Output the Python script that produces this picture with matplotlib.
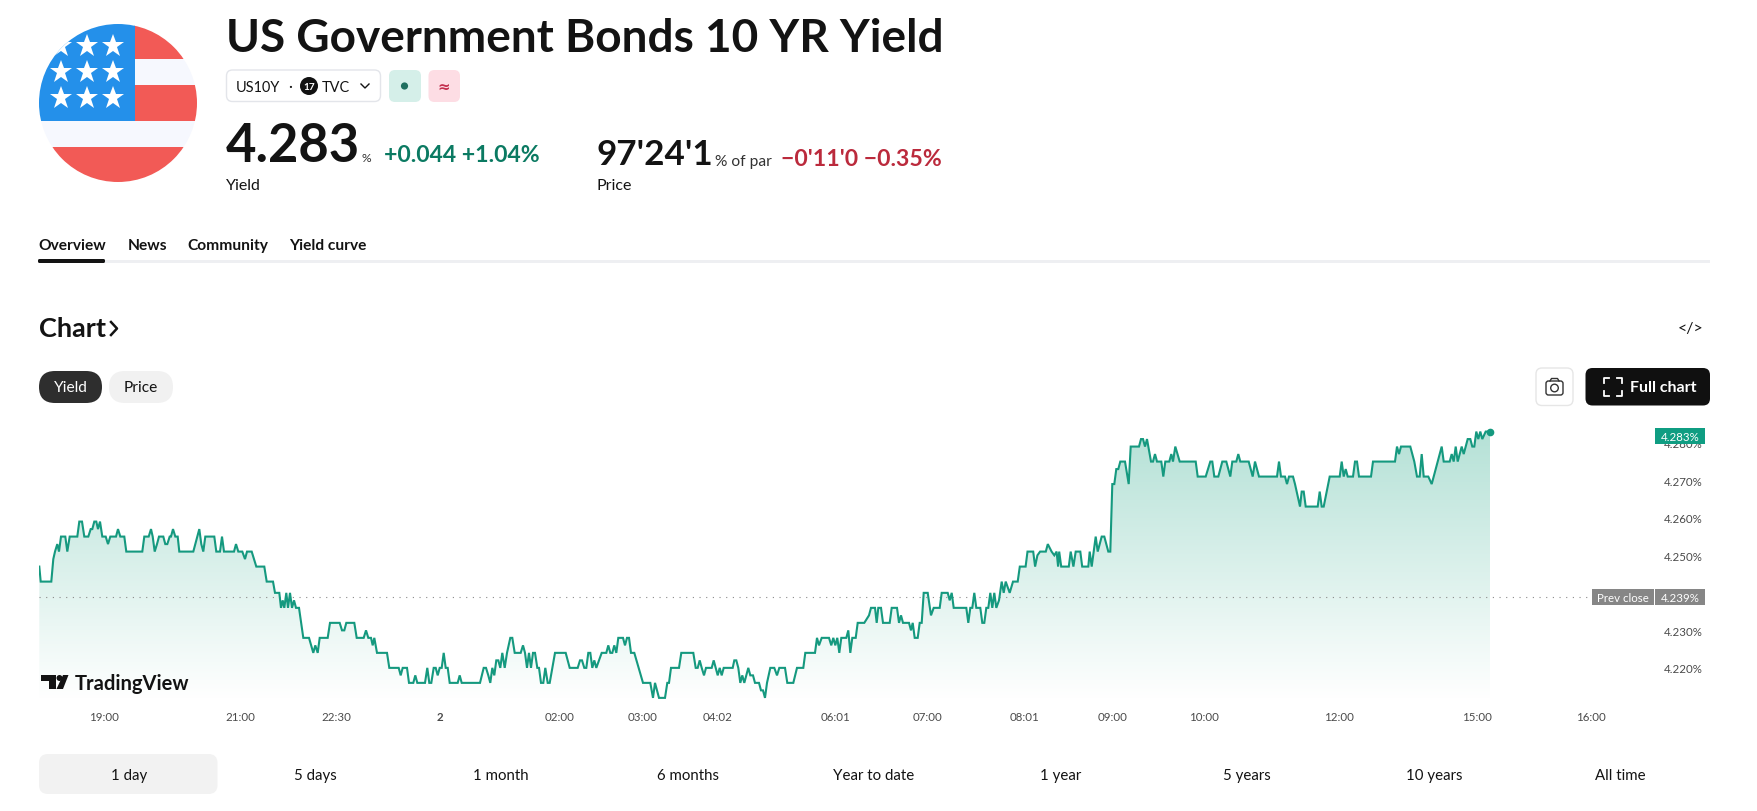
import matplotlib
matplotlib.use('Agg')
import matplotlib.pyplot as plt
import numpy as np
from matplotlib.colors import LinearSegmentedColormap
from matplotlib.patches import Circle, FancyBboxPatch, Polygon, Rectangle

plt.rcParams['font.family'] = ['Lato', 'DejaVu Sans']

# -- chart data, bar position along the time scale and yield in %
bar_pos = [
    0.3, 1.7, 12.3, 14.3, 16, 18.3, 20, 22, 26.3, 28.3,
    30.7, 38.3, 40.3, 43, 45.3, 49.3, 51.7, 53.3, 55.3, 57.3,
    59, 61, 63.3, 66.7, 69, 71.3, 77, 79, 81.3, 85.3,
    87.3, 103.3, 105.3, 109.7, 112, 113.7, 115.7, 118, 120, 124.3,
    126.3, 128.3, 130.7, 132, 134, 136.3, 138.7, 140.3, 154.3, 156.3,
    160.3, 162.3, 164.3, 166.3, 175.3, 177.3, 181, 183, 185, 195,
    197, 199.3, 203.3, 206,
    208, 212.7, 217.3, 225.3, 227.7, 234, 236, 240.3, 242, 243.7,
    245.3, 247.3, 249, 251, 253, 255, 257, 260, 264.3, 270,
    274.3, 276.3, 278.7, 280.7, 288.7, 291, 300.7, 303, 305.3, 307.3,
    315.3, 317.7, 324.7, 327, 329.3, 332, 333.7, 335.3, 338, 348,
    350.3, 359.7, 361.7, 363.7, 368, 370, 374.3, 376.3, 378.3, 386,
    388.3, 390.3, 392.3, 394.7, 396.7, 398.7, 400.7, 402.7, 404.7, 406.7,
    408.7, 410.7, 416,
    418.7, 420.7, 422.7, 441, 444.7, 447, 449.3, 451.3, 453.3, 455.3,
    457.3, 459.3, 461.3, 463.3, 465.7, 468, 471.3, 473.3, 475.7, 481.7,
    484, 486, 488, 490, 492, 494, 496, 498.3, 500, 502,
    504.3, 506.3, 508.7, 510.7, 516, 526.7, 530.7, 538.7, 541, 543,
    545.3, 547.3, 549.3, 551.3, 553.3, 555.3, 557.3, 560, 562.7, 567.3,
    569.3, 571.3, 573.3, 575.3, 577.3, 579.3, 584, 586, 588, 590,
    592, 595.3, 604, 611.3, 614, 616, 620, 626,
    628.3, 630, 632, 640, 642.3, 654.3, 656.7, 658.7, 660.7, 662.7,
    665, 667, 672.7, 674.7, 676.7, 678.7, 680.7, 682.7, 684.7, 693.7,
    695.3, 697.3, 699.3, 701.3, 703.3, 705.3, 709.3, 711.3, 714, 716,
    720, 722, 724, 726, 728, 731.3, 735.3, 738, 740.3, 746,
    748.3, 754.3, 758, 764.3, 766.3, 776, 778, 780, 782.7, 790,
    792.3, 794.3, 796.3, 798.3, 800.3, 802.3, 807.3, 809.3, 811.3, 813.3,
    816.7, 818.7, 825.3, 830, 832,
    836, 837.7, 839.3, 842, 844, 850.7, 852.7, 858, 860, 862,
    864, 870, 872, 873.7, 875.7, 878.7, 880.7, 882.7, 884.7, 888.7,
    892, 894.7, 900.7, 902.7, 908.7, 910.7, 912.7, 914.7, 927.3, 929.3,
    931.3, 933.3, 935.3, 937.3, 941.3, 943.3, 945.3, 947.3, 949.3, 951.3,
    953.3, 955.3, 957.3, 960, 962.7, 964.7, 966.7, 970.7, 974, 978.7,
    980.8, 986.6, 988.5, 994.2, 996.1, 998.4, 1001.1, 1006.8, 1008.8, 1012.6,
    1015.3, 1017.6, 1019.1, 1020.2, 1022.2, 1029.8, 1031.7, 1034.4, 1036.7, 1041.3,
    1043.2, 1049.3,
    1050.7, 1052.7, 1056.7, 1058.7, 1062.7, 1065.3, 1069.3, 1071.3,
    1073.3, 1075.3, 1077.3, 1079.3, 1081.3, 1086, 1089.7, 1091.7, 1100, 1102,
    1104, 1106, 1108, 1112, 1114, 1116, 1118, 1122.3, 1124.3, 1126.3,
    1130.3, 1132.3, 1134, 1136.3, 1140.7, 1156.7, 1158.7, 1166.7, 1171.3, 1173.3,
    1175.3, 1179.3, 1183.3, 1187.3, 1191.3, 1193.3, 1197.3, 1199.3, 1201.3, 1209.7,
    1213.7, 1216, 1220, 1238, 1240, 1242, 1246, 1248, 1250, 1254,
    1256,
    1261, 1262.7, 1264.7, 1266.7, 1278.7, 1280.7, 1282.7, 1284.7, 1290.7, 1300.7,
    1302.7, 1304.7, 1306.7, 1308.7, 1314, 1316, 1318, 1320, 1332, 1334,
    1356, 1358, 1360, 1362, 1371.3, 1375.3, 1378, 1380.7, 1382.7, 1384.7,
    1389.3, 1392.7, 1402.7, 1404.7, 1410.7, 1412.7, 1414.7, 1416.7, 1418.7, 1422.7,
    1424.7, 1428.7, 1431.3, 1433.3, 1435.3, 1437.3, 1439.3, 1441.3, 1443.3, 1446.7,
    1451,
]
yield_vals = [
    4.247, 4.243, 4.243, 4.249, 4.251, 4.253, 4.251, 4.255, 4.255, 4.251,
    4.255, 4.255, 4.259, 4.259, 4.255, 4.255, 4.257, 4.257, 4.259, 4.259,
    4.257, 4.259, 4.255, 4.255, 4.253, 4.255, 4.255, 4.257, 4.255, 4.255,
    4.251, 4.251, 4.255, 4.255, 4.257, 4.255, 4.251, 4.253, 4.255, 4.255,
    4.253, 4.253, 4.255, 4.255, 4.257, 4.255, 4.255, 4.251, 4.251, 4.253,
    4.257, 4.253, 4.251, 4.255, 4.255, 4.251, 4.251, 4.255, 4.251, 4.251,
    4.253, 4.251, 4.251, 4.249,
    4.251, 4.251, 4.247, 4.247, 4.243, 4.243, 4.240, 4.240, 4.236, 4.238,
    4.236, 4.240, 4.236, 4.240, 4.236, 4.238, 4.236, 4.236, 4.228, 4.228,
    4.224, 4.226, 4.224, 4.228, 4.228, 4.232, 4.232, 4.230, 4.230, 4.232,
    4.232, 4.228, 4.228, 4.230, 4.228, 4.228, 4.226, 4.228, 4.224, 4.224,
    4.220, 4.220, 4.218, 4.220, 4.220, 4.216, 4.216, 4.218, 4.216, 4.216,
    4.220, 4.216, 4.216, 4.220, 4.220, 4.218, 4.220, 4.220, 4.224, 4.220,
    4.220, 4.216, 4.216,
    4.216, 4.218, 4.216, 4.216, 4.220, 4.220, 4.218, 4.216, 4.220, 4.218,
    4.222, 4.222, 4.220, 4.224, 4.220, 4.224, 4.228, 4.228, 4.224, 4.224,
    4.226, 4.224, 4.220, 4.224, 4.220, 4.224, 4.224, 4.220, 4.220, 4.216,
    4.216, 4.220, 4.216, 4.216, 4.224, 4.224, 4.220, 4.220, 4.222, 4.222,
    4.220, 4.220, 4.224, 4.224, 4.220, 4.222, 4.220, 4.222, 4.224, 4.224,
    4.226, 4.224, 4.224, 4.226, 4.224, 4.228, 4.228, 4.226, 4.228, 4.228,
    4.224, 4.224, 4.216, 4.216, 4.212, 4.216, 4.212, 4.212,
    4.216, 4.216, 4.220, 4.220, 4.224, 4.224, 4.220, 4.220, 4.222, 4.220,
    4.218, 4.220, 4.220, 4.222, 4.220, 4.218, 4.220, 4.218, 4.220, 4.220,
    4.222, 4.222, 4.220, 4.216, 4.218, 4.216, 4.220, 4.218, 4.218, 4.216,
    4.216, 4.214, 4.214, 4.212, 4.216, 4.220, 4.220, 4.218, 4.220, 4.220,
    4.216, 4.216, 4.220, 4.220, 4.224, 4.224, 4.228, 4.226, 4.228, 4.228,
    4.226, 4.228, 4.226, 4.228, 4.224, 4.228, 4.228, 4.230, 4.224, 4.228,
    4.228, 4.232, 4.232, 4.234, 4.236,
    4.236, 4.232, 4.236, 4.236, 4.232, 4.232, 4.236, 4.236, 4.232, 4.234,
    4.232, 4.232, 4.230, 4.232, 4.228, 4.228, 4.232, 4.232, 4.240, 4.240,
    4.234, 4.236, 4.236, 4.240, 4.240, 4.238, 4.240, 4.236, 4.236, 4.232,
    4.236, 4.236, 4.240, 4.236, 4.236, 4.232, 4.232, 4.236, 4.236, 4.240,
    4.236, 4.240, 4.236, 4.238, 4.243, 4.240, 4.243, 4.240, 4.243, 4.243,
    4.247, 4.247, 4.251, 4.251, 4.247, 4.250, 4.251, 4.251, 4.253, 4.251,
    4.250, 4.251, 4.247, 4.251, 4.247, 4.247, 4.251, 4.247, 4.251, 4.251,
    4.247, 4.247,
    4.251, 4.247, 4.255, 4.251, 4.255, 4.255, 4.251, 4.251,
    4.269, 4.269, 4.273, 4.273, 4.275, 4.275, 4.269, 4.279, 4.279, 4.281,
    4.281, 4.279, 4.281, 4.275, 4.275, 4.277, 4.275, 4.275, 4.271, 4.275,
    4.275, 4.277, 4.275, 4.279, 4.275, 4.275, 4.271, 4.271, 4.275, 4.275,
    4.271, 4.271, 4.275, 4.275, 4.271, 4.275, 4.275, 4.277, 4.275, 4.275,
    4.271, 4.275, 4.271, 4.271, 4.275, 4.271, 4.271, 4.269, 4.271, 4.271,
    4.269,
    4.263, 4.267, 4.267, 4.263, 4.263, 4.267, 4.263, 4.263, 4.271, 4.271,
    4.275, 4.271, 4.273, 4.271, 4.271, 4.275, 4.275, 4.271, 4.271, 4.275,
    4.275, 4.279, 4.277, 4.279, 4.279, 4.275, 4.271, 4.271, 4.277, 4.271,
    4.271, 4.269, 4.279, 4.275, 4.275, 4.277, 4.275, 4.279, 4.275, 4.279,
    4.277, 4.281, 4.281, 4.279, 4.279, 4.283, 4.281, 4.283, 4.281, 4.283,
    4.283,
]
prev_close = 4.239
time_ticks = [65, 201.3, 297, 400.7, 520.5, 603.9, 678.9, 796.7, 889, 985.8,
              1073.4, 1165.2, 1299.5, 1437.7, 1551.6]
time_labels = ['19:00', '21:00', '22:30', '2', '02:00', '03:00', '04:02', '06:01', '07:00', '08:01',
               '09:00', '10:00', '12:00', '15:00', '16:00']
yield_ticks = [4.22, 4.23, 4.24, 4.25, 4.26, 4.27, 4.28]
ranges = ['1 day', '5 days', '1 month', '6 months', 'Year to date', '1 year', '5 years', '10 years', 'All time']

W, H = 1757, 812
LINE = '#15997f'
INK = '#131313'


def fs(px):
    return px * 0.72


def box(ax, x0, y0, x1, y1, round_px, face, edge='none', lw=1.0, z=1):
    ax.add_patch(FancyBboxPatch((x0, y0), x1 - x0, y1 - y0, boxstyle=f'round,pad=0,rounding_size={round_px}',
                                facecolor=face, edgecolor=edge, linewidth=lw, zorder=z))


fig = plt.figure(figsize=(W / 100, H / 100), dpi=100, facecolor='white')

# -- chart pane, 39..1657 px across and 420..700 px down
ax = fig.add_axes([39 / W, 1 - 700 / H, (1657 - 39) / W, 280 / H])
ax.set_facecolor('none')
for s in ax.spines.values():
    s.set_visible(False)

grad = np.linspace(1, 0, 256).reshape(-1, 1)
cmap = LinearSegmentedColormap.from_list('fade', ['#ffffff', '#b4e1d6'])
y_bot, y_top = 4.2117, 4.28635
img = ax.imshow(grad, extent=(0, bar_pos[-1], y_bot, 4.284), aspect='auto', cmap=cmap, vmin=0, vmax=1, zorder=1)
outline = np.column_stack([bar_pos, yield_vals])
outline = np.vstack([[bar_pos[0], y_bot], outline, [bar_pos[-1], y_bot]])
clip = Polygon(outline, closed=True, transform=ax.transData, facecolor='none', edgecolor='none')
ax.add_patch(clip)
img.set_clip_path(clip)

ax.plot(bar_pos, yield_vals, color=LINE, lw=1.5, solid_joinstyle='miter', zorder=3)
ax.plot(bar_pos[-1], yield_vals[-1], 'o', color=LINE, ms=4.5, zorder=4)
ax.plot([0, 1553], [prev_close, prev_close], color='#8a8a8a', lw=0.8, ls=(0, (1, 5)), zorder=2)

ax.set_xlim(0, 1618)
ax.set_ylim(y_bot, y_top)
ax.set_xticks(time_ticks)
ax.set_xticklabels(time_labels, fontsize=fs(11.5), color='#4a4a4a')
ax.get_xticklabels()[3].set_fontweight('bold')
ax.yaxis.tick_right()
ax.set_yticks(yield_ticks)
ax.set_yticklabels([f'{v:.3f}%' for v in yield_ticks], fontsize=fs(11.5), color='#4a4a4a')
ax.tick_params(axis='x', length=0, pad=8.5)
ax.tick_params(axis='y', length=0, pad=5)

# -- page furniture, drawn on a pixel sized overlay
ui = fig.add_axes([0, 0, 1, 1])
ui.set_xlim(0, W)
ui.set_ylim(H, 0)
ui.axis('off')

# flag badge
badge = Circle((118, 104), 79, transform=ui.transData)
for y0, y1, c, x0, x1 in [(25, 60, '#f25a56', 134, 200), (60, 86, '#f6f8fe', 134, 200), (86, 122, '#f25a56', 134, 200),
                          (122, 148, '#f6f8fe', 38, 200), (148, 184, '#f25a56', 38, 200), (25, 122, '#2490ea', 38, 134.6)]:
    r = Rectangle((x0, y0), x1 - x0, y1 - y0, facecolor=c, edgecolor='none', zorder=1)
    ui.add_patch(r)
    r.set_clip_path(badge)
for sy in [46.7, 72.7, 99]:
    for sx in [60.6, 86.7, 112.9]:
        st, = ui.plot(sx, sy, marker='*', ms=17, color='white', mew=0, zorder=2)
        st.set_clip_path(badge)

ui.text(226, 39, 'US Government Bonds 10 YR Yield', fontsize=fs(46), fontweight='bold', color=INK, va='center')

# symbol chips
box(ui, 226.5, 71, 380.5, 102.5, 6, 'white', '#e3e5ea')
ui.text(258, 87.5, 'US10Y', fontsize=fs(14.5), color=INK, ha='center', va='center')
ui.text(290, 86.5, '·', fontsize=fs(15), color=INK, ha='center', va='center')
ui.add_patch(Circle((309, 87), 9, facecolor='#111111', edgecolor='none'))
ui.text(309, 87, '17', fontsize=fs(10), color='white', fontweight='bold', ha='center', va='center')
ui.text(336, 87.5, 'TVC', fontsize=fs(14.5), color=INK, ha='center', va='center')
ui.plot([361, 365, 369], [85, 89, 85], color=INK, lw=1.0)
box(ui, 389, 71, 421, 103, 6, '#d5efe9')
ui.add_patch(Circle((404.5, 87), 3.6, facecolor='#1f6f5f', edgecolor='none'))
box(ui, 428.5, 71, 460, 103, 6, '#fddde4')
ui.text(444, 87, '≈', fontsize=fs(15), fontweight='bold', color='#c4304f', ha='center', va='center', family='DejaVu Sans')

# quote line
ui.text(226, 147, '4.283', fontsize=fs(52.5), fontweight='bold', color=INK, va='center')
ui.text(362, 159, '%', fontsize=fs(12), color='#333333', va='center')
ui.text(384, 156, '+0.044 +1.04%', fontsize=fs(23), fontweight='bold', color='#0b7a62', va='center')
ui.text(226, 186, 'Yield', fontsize=fs(16), color=INK, va='center')
ui.text(597, 155, "97'24'1", fontsize=fs(35), fontweight='bold', color=INK, va='center')
ui.text(715, 162, '% of par', fontsize=fs(15.5), color='#333333', va='center')
ui.text(781, 159, '−0\'11\'0 −0.35%', fontsize=fs(23), fontweight='bold', color='#bb2a3c', va='center')
ui.text(597, 186, 'Price', fontsize=fs(16), color=INK, va='center')

# tabs
for label, x in [('Overview', 38), ('News', 127.5), ('Community', 187), ('Yield curve', 289)]:
    ui.text(x, 246, label, fontsize=fs(15.5), fontweight='bold', color=INK, va='center')
ui.add_patch(Rectangle((105, 260.5), 1605, 3.5, facecolor='#eeeff2', edgecolor='none'))
box(ui, 38, 260, 105, 264, 1.5, INK)

# chart header
ui.text(39, 329, 'Chart', fontsize=fs(27), fontweight='bold', color=INK, va='center')
ui.plot([111, 117, 111], [323, 329.5, 336], color=INK, lw=1.8)
ui.text(1691, 329, '</>', fontsize=fs(16), color=INK, ha='center', va='center')
box(ui, 39, 372, 102, 404, 16, '#2e2e2e')
ui.text(70.5, 388, 'Yield', fontsize=fs(15.5), color='white', ha='center', va='center')
box(ui, 109, 372, 173, 404, 16, '#f1f1f1')
ui.text(141, 388, 'Price', fontsize=fs(15.5), color=INK, ha='center', va='center')

# camera and full chart buttons
box(ui, 1536, 369, 1573, 406.5, 6, 'white', '#e6e6e6')
box(ui, 1546, 382, 1563, 396, 2.5, 'none', '#333333', lw=1.0)
ui.add_patch(Circle((1554.5, 389), 3.8, facecolor='none', edgecolor='#333333', linewidth=1.0))
ui.plot([1550, 1551.5, 1557.5, 1559], [382, 379.5, 379.5, 382], color='#333333', lw=1.0)
box(ui, 1585.5, 369, 1710, 406.5, 7, '#101010')
for cx, cy, dx, dy in [(1604, 379, 1, 1), (1622, 379, -1, 1), (1604, 397, 1, -1), (1622, 397, -1, -1)]:
    ui.plot([cx, cx, cx + 5 * dx], [cy + 5 * dy, cy, cy], color='white', lw=1.3)
ui.text(1663, 388.5, 'Full chart', fontsize=fs(16), fontweight='bold', color='white', ha='center', va='center')

# price scale tags, these sit on top of the 4.280 and 4.240 ticks
prev_px = 700 - (prev_close - y_bot) / (y_top - y_bot) * 280
ui.add_patch(Rectangle((1655, 429), 49.5, 16, facecolor='#0f9d82', edgecolor='none', zorder=3))
ui.text(1680, 437.5, f'{yield_vals[-1]:.3f}%', fontsize=fs(11.5), color='white', ha='center', va='center', zorder=4)
ui.add_patch(Rectangle((1592, prev_px - 8), 62, 16.5, facecolor='#868686', edgecolor='none', zorder=3))
ui.add_patch(Rectangle((1655, prev_px - 8), 49.5, 16.5, facecolor='#868686', edgecolor='none', zorder=3))
ui.text(1623, prev_px + 0.5, 'Prev close', fontsize=fs(11.5), color='white', ha='center', va='center', zorder=4)
ui.text(1680, prev_px + 0.5, f'{prev_close:.3f}%', fontsize=fs(11.5), color='white', ha='center', va='center', zorder=4)

# tradingview mark
ui.add_patch(Polygon([(41, 676), (56, 676), (56, 690), (49, 690), (49, 682), (41, 682)], facecolor=INK, edgecolor='none', zorder=3))
ui.add_patch(Circle((59.5, 679), 3, facecolor=INK, edgecolor='none', zorder=3))
ui.add_patch(Polygon([(63, 676), (68.5, 676), (63, 690), (56.5, 690)], facecolor=INK, edgecolor='none', zorder=3))
ui.text(75, 684, 'TradingView', fontsize=fs(20.2), fontweight='bold', color=INK, va='center', zorder=3)

# range selector
box(ui, 39, 755, 217.5, 795, 9, '#f2f2f2')
for label, x in zip(ranges, [129, 315, 501, 688, 874, 1061, 1247, 1434, 1620]):
    ui.text(x, 776, label, fontsize=fs(15), color=INK, ha='center', va='center')

fig.savefig('out.png', dpi=100, facecolor='white')
